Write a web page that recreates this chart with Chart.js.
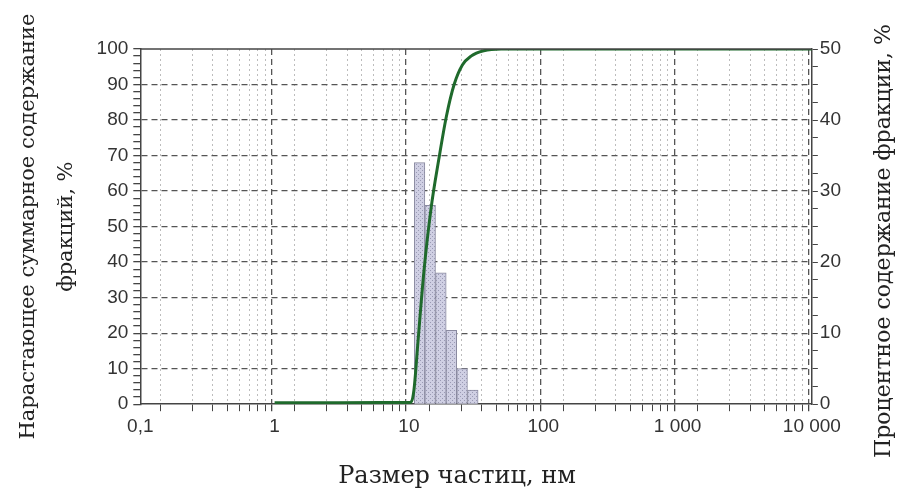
<!DOCTYPE html>
<html lang="ru">
  <head>
    <meta charset="UTF-8" />
    <script src="https://cdn.jsdelivr.net/npm/chart.js"></script>
    <title>Размер частиц</title>
    <style>
      body { margin: 0; background: #fff; }
      #wrap { width: 898px; height: 490px; }
    </style>
  </head>
  <body>
    <div id="wrap"><canvas id="myChart"></canvas></div>
    <script>
      // histogram: bin centres (nm) and percentage of each fraction
      const binSizes = [12, 14.4, 17.3, 20.7, 24.9, 29.9];
      const binPercent = [34, 28, 18.5, 10.4, 5, 2];

      // cumulative curve (nm, %)
      const cumSizes = [1, 3, 10, 10.35, 10.9, 11.7, 12.9, 14.6, 16.7, 19, 21.7, 25, 29, 36, 48.6, 100, 1000, 10000];
      const cumPercent = [0.4, 0.4, 0.5, 0.6, 4, 18, 37, 55, 69, 81, 90, 95.5, 98, 99.5, 100, 100, 100, 100];

      const xTickLabels = { 0.1: "0,1", 1: "1", 10: "10", 100: "100", 1000: "1 000", 10000: "10 000" };

      const axisColor = "#444";
      const tickFont = { family: "Liberation Sans", size: 19 };
      const serif = "'DejaVu Serif'";

      function isDecade(v) {
        const l = Math.log10(v);
        return Math.abs(l - Math.round(l)) < 1e-6;
      }

      // dotted fill for the bars
      function barPattern() {
        const c = document.createElement("canvas");
        c.width = 4; c.height = 4;
        const g = c.getContext("2d");
        g.fillStyle = "#cfcfe3";
        g.fillRect(0, 0, 4, 4);
        g.fillStyle = "#9a9ab4";
        g.fillRect(0, 0, 1, 1);
        g.fillRect(2, 2, 1, 1);
        return g.createPattern(c, "repeat");
      }

      const frame = {
        id: "frame",
        afterDraw(chart) {
          const { ctx, chartArea: a } = chart;
          ctx.save();
          ctx.strokeStyle = axisColor;
          ctx.lineWidth = 1.5;
          ctx.beginPath();
          ctx.moveTo(a.left, a.top);
          ctx.lineTo(a.right, a.top);
          ctx.stroke();
          ctx.fillStyle = "#222";
          ctx.textAlign = "center";
          ctx.textBaseline = "middle";
          // x axis title
          ctx.font = "24px " + serif;
          ctx.fillText("Размер частиц, нм", 457, 477);
          // right axis title, read bottom to top
          ctx.font = "22px " + serif;
          ctx.translate(884, 241);
          ctx.rotate(-Math.PI / 2);
          ctx.fillText("Процентное содержание фракции, %", 0, 0);
          ctx.restore();
        },
      };

      const data = {
        datasets: [
          {
            type: "line",
            label: "cum",
            data: cumSizes.map((x, i) => ({ x, y: cumPercent[i] })),
            borderColor: "#1f6a2c",
            borderWidth: 3,
            pointRadius: 0,
            cubicInterpolationMode: "monotone",
            yAxisID: "y",
            order: 1,
          },
          {
            type: "bar",
            label: "frac",
            data: binSizes.map((x, i) => ({ x, y: binPercent[i] })),
            backgroundColor: barPattern(),
            borderColor: "#8a8aa0",
            borderWidth: 1,
            barThickness: 10.6,
            yAxisID: "y2",
            order: 2,
          },
        ],
      };

      const config = {
        data,
        plugins: [frame],
        options: {
          responsive: true,
          maintainAspectRatio: false,
          animation: false,
          layout: { padding: { top: 49, right: 55, left: 10, bottom: 48 } },
          plugins: { legend: { display: false }, tooltip: { enabled: false } },
          scales: {
            x: {
              type: "logarithmic",
              min: 0.1,
              max: 10000,
              afterBuildTicks: (s) => {
                const t = [];
                for (let e = -1; e <= 4; e++) {
                  for (let m = 1; m <= 9; m++) {
                    const v = m * Math.pow(10, e);
                    if (v <= 10000.0001) t.push({ value: v });
                  }
                }
                s.ticks = t;
              },
              ticks: {
                autoSkip: false,
                maxRotation: 0,
                color: "#333",
                font: tickFont,
                padding: 4,
                callback: (v) => {
                  for (const k in xTickLabels) {
                    if (Math.abs(v - Number(k)) < 1e-6 * Number(k)) return xTickLabels[k];
                  }
                  return "";
                },
              },
              grid: {
                color: (c) => (c.tick && isDecade(c.tick.value) ? "#555" : "#bdbdbd"),
                lineWidth: (c) => (c.tick && isDecade(c.tick.value) ? 1.3 : 1),
                tickColor: axisColor,
                tickLength: 7,
              },
              border: {
                color: axisColor,
                width: 1.5,
                dash: (c) => (c.tick && isDecade(c.tick.value) ? [6, 4] : [2, 3]),
              },
            },
            y: {
              position: "left",
              min: 0,
              max: 100,
              afterBuildTicks: (s) => {
                const t = [];
                for (let v = 0; v <= 100; v += 2) t.push({ value: v });
                s.ticks = t;
              },
              ticks: {
                autoSkip: false,
                color: "#333",
                font: tickFont,
                padding: 5,
                callback: (v) => (v % 10 === 0 ? String(v) : ""),
              },
              grid: {
                color: (c) =>
                  c.tick && c.tick.value % 10 === 0 && c.tick.value > 0 && c.tick.value < 100
                    ? "#555"
                    : "rgba(0,0,0,0)",
                lineWidth: 1.3,
                tickColor: axisColor,
                tickLength: 7,
              },
              border: { color: axisColor, width: 1.5, dash: [6, 4] },
              title: {
                display: true,
                text: ["Нарастающее суммарное содержание", "фракций, %"],
                color: "#222",
                font: { family: "DejaVu Serif", size: 21, lineHeight: 1.8 },
                padding: { top: 0, bottom: 6 },
              },
            },
            y2: {
              position: "right",
              min: 0,
              max: 50,
              afterBuildTicks: (s) => {
                const t = [];
                for (let v = 0; v <= 50; v += 2.5) t.push({ value: v });
                s.ticks = t;
              },
              ticks: {
                autoSkip: false,
                color: "#333",
                font: tickFont,
                padding: 2,
                callback: (v) => (v % 10 === 0 ? String(v) : ""),
              },
              grid: { drawOnChartArea: false, tickColor: axisColor, tickLength: 6 },
              border: { color: axisColor, width: 1.5 },
            },
          },
        },
      };

      var myChart = new Chart(document.getElementById("myChart"), config);
    </script>
  </body>
</html>
